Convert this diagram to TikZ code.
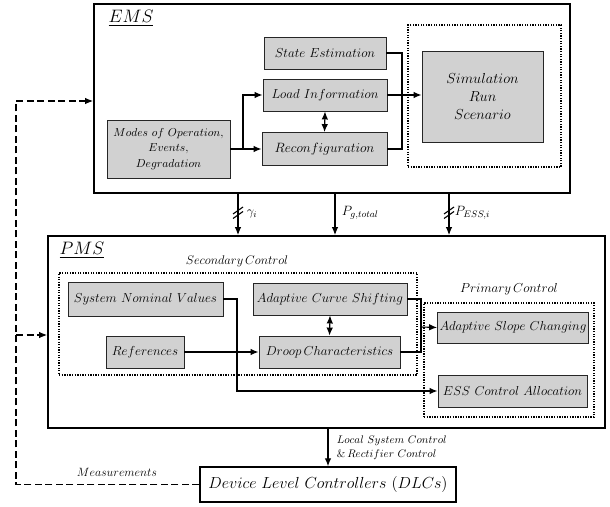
\RequirePackage{fix-cm}
\documentclass[tikz,border=0pt]{standalone}
\usepackage{amsmath,amsfonts}
\usepackage{tikz}
\usetikzlibrary{arrows.meta}

\begin{document}
\begin{tikzpicture}[->,>={Latex[length=8pt,width=6.5pt]},x=1pt,y=-1pt,line width=1.1pt]
\tikzstyle{blk}=[rectangle,draw=black!85,line width=0.9pt,fill=black!18,inner sep=2pt]
\tikzstyle{frame}=[rectangle,draw=black,line width=1.8pt]
\tikzstyle{grp}=[rectangle,draw=black,line width=1.3pt,dash pattern=on 1.3pt off 1.3pt]
\tikzset{font=\fontsize{13}{15}\selectfont}

\useasboundingbox (0,0) rectangle (610,506);

        % EMS
        \node[frame,minimum width=476,minimum height=189]                 (ems)  at (332,98.5)   {};
        \node[font=\fontsize{18}{20}\selectfont]                          (emsl) at (131,18)     {$\underline{EMS}$};
        \node[grp,minimum width=153,minimum height=142]                   (simg) at (484.5,96)   {};
        \node[blk,minimum width=122,minimum height=32]                    (se)   at (325,53)     {$State\ Estimation$};
        \node[blk,minimum width=124,minimum height=32]                    (li)   at (325,95)     {$Load\ Information$};
        \node[blk,minimum width=125,minimum height=33,font=\fontsize{13.5}{15}\selectfont] (rc) at (324.5,149) {$Reconfiguration$};
        \node[blk,minimum width=123,minimum height=58,align=center,font=\fontsize{11.5}{15.5}\selectfont]
                                                                          (mo)   at (168.5,149)  {$Modes\ of\ Operation,$\\$Events,$\\$Degradation$};
        \node[blk,minimum width=121,minimum height=91,align=center,font=\fontsize{14.5}{18}\selectfont]
                                                                          (sim)  at (482.5,96.5) {$Simulation$\\$Run$\\$Scenario$};

        \coordinate (br) at (243,149);
        \coordinate (jn) at (402,100);

        \draw (mo.east) -- (rc.west);
        \draw (br) |- (li.west);
        \draw[-] (se.east) -| (jn) |- (rc.east);
        \draw (li.east) -- (li.east -| sim.west);
        \draw[<->] (li.south) -- (rc.north);

        % EMS -> PMS
        \coordinate (t1) at (238,193);
        \coordinate (t2) at (335,193);
        \coordinate (t3) at (449,193);

        % PMS
        \node[frame,minimum width=557,minimum height=192]                  (pms)  at (326.5,332)  {};
        \node[font=\fontsize{18}{20}\selectfont]                          (pmsl) at (82,250)     {$\underline{PMS}$};
        \node[font=\fontsize{12.5}{14}\selectfont]                        (secl) at (237,261)    {$Secondary\,Control$};
        \node[grp,minimum width=358,minimum height=102]                   (secg) at (238,324)    {};
        \node[font=\fontsize{13}{14}\selectfont]                          (pril) at (509,289)    {$Primary\,Control$};
        \node[grp,minimum width=170,minimum height=114]                   (prig) at (509,360)    {};

        \node[blk,minimum width=155,minimum height=34]                    (snv)  at (145.5,299)  {$System\ Nominal\ Values$};
        \node[blk,minimum width=78,minimum height=32]                     (ref)  at (145,352)    {$References$};
        \node[blk,minimum width=154,minimum height=32]                    (acs)  at (330,299)    {$Adaptive\ Curve\ Shifting$};
        \node[blk,minimum width=141,minimum height=32]                    (dc)   at (329.5,352)  {$Droop\,Characteristics$};
        \node[blk,minimum width=148,minimum height=31]                    (asc)  at (513,327.5)  {$Adaptive\ Slope\ Changing$};
        \node[blk,minimum width=149,minimum height=32]                    (ess)  at (512.5,391)  {$ESS\ Control\ Allocation$};

        \draw (t1) -- (t1 |- pms.north);
        \draw (t2) -- (t2 |- pms.north);
        \draw (t3) -- (t3 |- pms.north);
        \draw[-,shift={(t1)}] (-5,21) -- (5,14) (-5,25.5) -- (5,18.5);
        \draw[-,shift={(t3)}] (-5,21) -- (5,14) (-5,25.5) -- (5,18.5);
        \node[anchor=west]                                                (gam)  at (243,214)    {$\gamma_i$};
        \node[anchor=west,font=\fontsize{13.5}{15}\selectfont]            (pg)   at (338,213)    {$P_{g,total}$};
        \node[anchor=west,font=\fontsize{13.5}{15}\selectfont]            (pe)   at (451,213)    {$P_{ESS,i}$};

        \coordinate (jp) at (421,327);
        \coordinate (sv) at (237,350);

        \draw (ref.east) -- (dc.west);
        \draw[<->] (acs.south) -- (dc.north);
        \draw[-] (acs.east) -| (jp) |- (dc.east);
        \draw (jp) -- (asc.west);
        \draw (snv.east) -| (sv) |- (ess.west);

        % DLCs
        \node[rectangle,draw,line width=1.5pt,fill=white,minimum width=256,minimum height=35,font=\fontsize{16}{18}\selectfont]
                                                                          (dlc)  at (328,484.5)  {$Device\ Level\ Controllers\ (DLCs)$};
        \draw (dlc.north |- pms.south) -- (dlc.north);
        \node[anchor=west,align=left,font=\fontsize{11}{14}\selectfont]   (loc)  at (333,448)    {$Local\ System\ Control$\\$\&\,Rectifier\ Control$};

        \coordinate (m1) at (16,101);
        \coordinate (m2) at (16,335);
        \draw[dash pattern=on 7pt off 3.5pt] (dlc.west) -| (m1) -- (m1 -| ems.west);
        \draw[dash pattern=on 7pt off 3.5pt] (m2) -- (m2 -| pms.west);
        \node[font=\fontsize{12}{14}\selectfont]                          (meas) at (117,472)    {$Measurements$};

\end{tikzpicture}
\end{document}
